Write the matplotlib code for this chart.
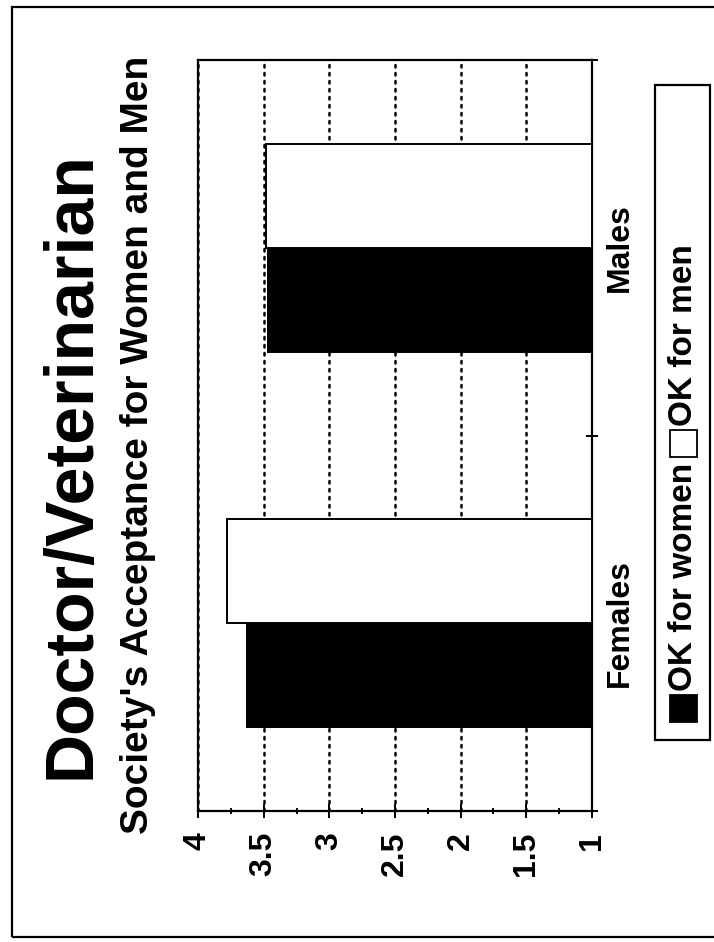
import matplotlib
matplotlib.use("Agg")
import matplotlib.pyplot as plt
from matplotlib.patches import Rectangle
import numpy as np

plt.rcParams['font.family'] = ['Liberation Sans', 'DejaVu Sans']
plt.rcParams['font.weight'] = 'bold'

# Data
title = "Doctor/Veterinarian"
subtitle = "Society's Acceptance for Women and Men"
categories = ["Females", "Males"]
series_names = ["OK for women", "OK for men"]
ok_for_women = [3.63, 3.47]
ok_for_men = [3.78, 3.48]
value_ticks = [1, 1.5, 2, 2.5, 3, 3.5, 4]
value_tick_labels = ["1", "1.5", "2", "2.5", "3", "3.5", "4"]
series_colors = ["black", "white"]

W, H = 714, 942
fig = plt.figure(figsize=(W / 100, H / 100), dpi=100)
fig.patch.set_facecolor("white")


def fx(px):
    return px / W


def fy(py):
    return 1 - py / H


# page frame
fig.add_artist(Rectangle((fx(12), fy(937)), fx(720) - fx(12), fy(7) - fy(937),
                         transform=fig.transFigure, fill=False,
                         edgecolor="black", lw=1.6))

# plot area (page is turned on its side: values run right-to-left)
ax = fig.add_axes([fx(198), fy(811), (592 - 198) / W, (811 - 60) / H])
ax.set_xlim(4, 1)
ax.set_ylim(-0.5, len(categories) - 0.5)

bar_h = 0.277
pos = np.arange(len(categories))
base = 1.0
ax.barh(pos - bar_h / 2, np.array(ok_for_women) - base, left=base, height=bar_h,
        color=series_colors[0], edgecolor="black", lw=1.4, zorder=3)
ax.barh(pos + bar_h / 2, np.array(ok_for_men) - base, left=base, height=bar_h,
        color=series_colors[1], edgecolor="black", lw=1.4, zorder=3)

# dotted gridlines
ax.set_xticks(value_ticks)
ax.set_xticklabels(value_tick_labels, rotation=90, fontsize=23, fontweight="bold")
ax.set_xticks(np.arange(1, 4.01, 0.25), minor=True)
ax.grid(axis="x", which="major", color="black", linestyle=(0, (1, 2.2)),
        lw=1.8, dash_capstyle="round", zorder=1)
ax.set_axisbelow(True)
ax.tick_params(axis="x", which="major", direction="inout", length=10, width=1.4,
               pad=10, colors="black")
ax.tick_params(axis="x", which="minor", direction="inout", length=4, width=1.4)

# category axis on the right
ax.yaxis.tick_right()
ax.set_yticks(np.arange(-0.5, len(categories), 1.0))
ax.set_yticklabels([])
ax.set_yticks(pos, minor=True)
ax.set_yticklabels(categories, minor=True, rotation=90, fontsize=23,
                   fontweight="bold", va="center")
ax.tick_params(axis="y", which="major", direction="inout", length=9, width=1.4,
               right=True, left=False)
ax.tick_params(axis="y", which="minor", length=0, pad=9, right=True, left=False)

for s in ax.spines.values():
    s.set_linewidth(1.6)
    s.set_color("black")

# titles
fig.text(fx(72), fy(465), title, rotation=90, ha="center", va="center",
         fontsize=49, fontweight="bold")
fig.text(fx(138), fy(445), subtitle, rotation=90, ha="center", va="center",
         fontsize=28, fontweight="bold")

# legend, laid out bottom-to-top
fig.canvas.draw()
renderer = fig.canvas.get_renderer()
box_l, box_r, box_t, box_b = 655, 710, 85, 740
fig.add_artist(Rectangle((fx(box_l), fy(box_b)), fx(box_r) - fx(box_l),
                         fy(box_t) - fy(box_b), transform=fig.transFigure,
                         facecolor="white", edgecolor="black", lw=1.6))
cx = (box_l + box_r) / 2 + 1
sq = 27
y = 722
for name, col in zip(series_names, series_colors):
    fig.add_artist(Rectangle((fx(cx - sq / 2), fy(y)), sq / W, sq / H,
                             transform=fig.transFigure, facecolor=col,
                             edgecolor="black", lw=1.3))
    y -= sq + 4
    t = fig.text(fx(cx), fy(y), name, rotation=90, ha="center", va="bottom",
                 fontsize=24, fontweight="bold")
    ext = t.get_window_extent(renderer)
    y -= ext.height + 6

fig.savefig("out.png", dpi=100, facecolor="white")
